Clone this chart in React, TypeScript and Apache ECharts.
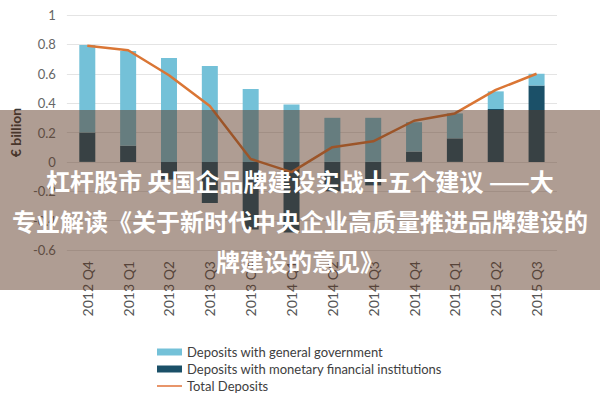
import React, { useEffect, useRef } from "react";
import * as echarts from "echarts";

const categories = [
  "2012 Q4", "2013 Q1", "2013 Q2", "2013 Q3", "2013 Q4", "2014 Q1",
  "2014 Q2", "2014 Q3", "2014 Q4", "2015 Q1", "2015 Q2", "2015 Q3",
];
const generalGov = [0.595, 0.645, 0.707, 0.653, 0.497, 0.39, 0.3, 0.3, 0.2, 0.17, 0.12, 0.08];
const mfi = [0.2, 0.11, -0.12, -0.28, -0.46, -0.48, -0.2, -0.16, 0.07, 0.16, 0.36, 0.52];
const totalDeposits = [0.79, 0.76, 0.59, 0.38, 0.02, -0.07, 0.1, 0.14, 0.28, 0.33, 0.49, 0.6];

const seriesNames = [
  "Deposits with general government",
  "Deposits with monetary financial institutions",
  "Total Deposits",
];
const bannerLines = [
  "杠杆股市 央国企品牌建设实战十五个建议 ——大",
  "专业解读《关于新时代中央企业高质量推进品牌建设的",
  "牌建设的意见》",
];

export default function App() {
  const ref = useRef<HTMLDivElement>(null);
  useEffect(() => {
    if (!ref.current) return;
    const chart = echarts.init(ref.current, null, { renderer: "svg" });
    const font = "Lato, 'Open Sans', sans-serif";
    chart.setOption({
      animation: false,
      textStyle: { fontFamily: font },
      grid: { left: 63, right: 43, top: 15, bottom: 150 },
      legend: {
        orient: "vertical",
        left: 152,
        top: 340,
        itemWidth: 25,
        itemHeight: 7,
        itemGap: 3,
        textStyle: { fontSize: 13, color: "#404040", lineHeight: 14, fontFamily: font },
        data: [
          { name: seriesNames[0], icon: "rect" },
          { name: seriesNames[1], icon: "rect" },
          { name: seriesNames[2], icon: "path://M0,0 M0,7 M0,2.5 L25,2.5 L25,4.5 L0,4.5 Z" },
        ],
      },
      xAxis: {
        type: "category",
        data: categories,
        position: "bottom",
        axisLine: { show: false, onZero: false },
        axisTick: { show: false },
        axisLabel: { rotate: 90, fontSize: 14, color: "#555", margin: 11, fontFamily: font },
      },
      yAxis: {
        type: "value",
        min: -0.6,
        max: 1,
        interval: 0.2,
        name: "€ billion",
        nameLocation: "middle",
        nameGap: 42,
        nameTextStyle: { fontSize: 14, fontWeight: "bold", color: "#3a3a3a", fontFamily: font },
        axisLine: { show: false },
        axisTick: { show: false },
        axisLabel: {
          fontSize: 13,
          color: "#666",
          margin: 11,
          fontFamily: font,
          formatter: (v: number) => String(Math.round(v * 10) / 10),
        },
        splitLine: { lineStyle: { color: "#e4e4e4", width: 1 } },
      },
      series: [
        {
          name: seriesNames[1],
          type: "bar",
          stack: "dep",
          barWidth: 16,
          data: mfi,
          itemStyle: { color: "#1B5068" },
        },
        {
          name: seriesNames[0],
          type: "bar",
          stack: "dep",
          barWidth: 16,
          data: generalGov,
          itemStyle: { color: "#74C1D8" },
        },
        {
          name: seriesNames[2],
          type: "line",
          data: totalDeposits,
          symbol: "none",
          z: 5,
          lineStyle: { color: "#DA7635", width: 2.5 },
          itemStyle: { color: "#E8956A" },
        },
      ],
      graphic: [
        {
          type: "rect",
          z: 100,
          shape: { x: 0, y: 110, width: 600, height: 180 },
          style: { fill: "rgba(87,50,29,0.48)" },
        },
        ...bannerLines.map((t, i) => ({
          type: "text",
          z: 101,
          x: 300,
          y: 180 + i * 40,
          style: {
            text: t,
            fill: "#ffffff",
            font: "bold 24px 'Noto Sans CJK SC', sans-serif",
            textAlign: "center",
            textVerticalAlign: "middle",
          },
        })),
      ],
    });
    return () => chart.dispose();
  }, []);
  return (
    <div
      ref={ref}
      style={{ position: "fixed", left: 0, top: 0, width: 600, height: 400, background: "#fff" }}
    />
  );
}
